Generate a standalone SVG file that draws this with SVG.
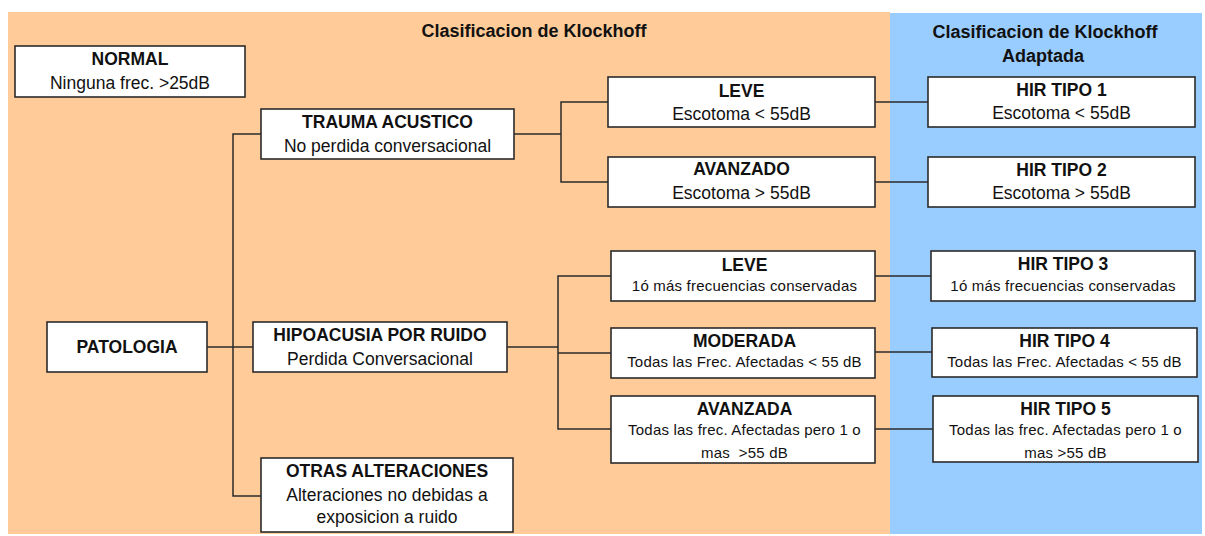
<svg xmlns="http://www.w3.org/2000/svg" width="1205" height="536" viewBox="0 0 1205 536">
<style>
.bg{stroke:none}
.box{fill:#ffffff;stroke:#2b2b2b;stroke-width:1.6}
.con{fill:none;stroke:#2b2b2b;stroke-width:1.5}
text{font-family:"Liberation Sans",Arial,sans-serif;fill:#111;text-anchor:middle}
.b{font-weight:bold;font-size:17.5px}
.t{font-size:17.5px}
.s{font-size:15px;letter-spacing:0.2px}
.h{font-weight:bold;font-size:18px}
</style>
<rect width="1205" height="536" fill="#ffffff"/>
<rect class="bg" x="8" y="12" width="882" height="522" fill="#ffcc99"/>
<rect class="bg" x="890" y="13" width="312" height="521" fill="#99ccff"/>
<text class="h" x="534" y="37">Clasificacion de Klockhoff</text>
<text class="h" x="1045" y="38">Clasificacion de Klockhoff</text>
<text class="h" x="1043" y="62">Adaptada</text>
<g id="connectors">
<path class="con" d="M207 347H253"/>
<path class="con" d="M261 134H233V496H261"/>
<path class="con" d="M514 134H561"/>
<path class="con" d="M608 102H561V182H608"/>
<path class="con" d="M875 102H928"/>
<path class="con" d="M875 182H928"/>
<path class="con" d="M507 347H558"/>
<path class="con" d="M611 276H558V429H611"/>
<path class="con" d="M558 353H611"/>
<path class="con" d="M875 276H931"/>
<path class="con" d="M875 352H932"/>
<path class="con" d="M875 429H933"/>
</g>
<g id="normal">
<rect class="box" x="15" y="46" width="230" height="51"/>
<text class="b" x="130" y="65">NORMAL</text>
<text class="t" x="130" y="89">Ninguna frec. &gt;25dB</text>
</g>
<g id="patologia">
<rect class="box" x="47" y="322" width="160" height="50"/>
<text class="b" x="127" y="353">PATOLOGIA</text>
</g>
<g id="trauma">
<rect class="box" x="261" y="109" width="253" height="50"/>
<text class="b" x="387.5" y="128">TRAUMA ACUSTICO</text>
<text class="t" x="387.5" y="152">No perdida conversacional</text>
</g>
<g id="hipoacusia">
<rect class="box" x="253" y="322" width="254" height="50"/>
<text class="b" x="380" y="341">HIPOACUSIA POR RUIDO</text>
<text class="t" x="380" y="365">Perdida Conversacional</text>
</g>
<g id="otras">
<rect class="box" x="261" y="458" width="252" height="74"/>
<text class="b" x="387" y="477">OTRAS ALTERACIONES</text>
<text class="t" x="387" y="501">Alteraciones no debidas a</text>
<text class="t" x="387" y="523">exposicion a ruido</text>
</g>
<g id="leve1">
<rect class="box" x="608" y="77" width="267" height="50"/>
<text class="b" x="741.5" y="97">LEVE</text>
<text class="t" x="741.5" y="120">Escotoma &lt; 55dB</text>
</g>
<g id="avanzado">
<rect class="box" x="608" y="157" width="267" height="50"/>
<text class="b" x="741.5" y="175">AVANZADO</text>
<text class="t" x="741.5" y="199">Escotoma &gt; 55dB</text>
</g>
<g id="hir1">
<rect class="box" x="928" y="77" width="267" height="50"/>
<text class="b" x="1061.5" y="96">HIR TIPO 1</text>
<text class="t" x="1061.5" y="119">Escotoma &lt; 55dB</text>
</g>
<g id="hir2">
<rect class="box" x="928" y="157" width="267" height="50"/>
<text class="b" x="1061.5" y="176">HIR TIPO 2</text>
<text class="t" x="1061.5" y="199">Escotoma &gt; 55dB</text>
</g>
<g id="leve2">
<rect class="box" x="611" y="251" width="264" height="50"/>
<text class="b" x="744.5" y="270.5">LEVE</text>
<text class="s" x="744.5" y="291">1ó más frecuencias conservadas</text>
</g>
<g id="moderada">
<rect class="box" x="611" y="328" width="264" height="50"/>
<text class="b" x="744.5" y="347">MODERADA</text>
<text class="s" x="744.5" y="367">Todas las Frec. Afectadas &lt; 55 dB</text>
</g>
<g id="avanzada">
<rect class="box" x="611" y="396" width="264" height="67"/>
<text class="b" x="744.5" y="415">AVANZADA</text>
<text class="s" x="744.5" y="435">Todas las frec. Afectadas pero 1 o</text>
<text class="s" x="744.5" y="458">mas&#160; &gt;55 dB</text>
</g>
<g id="hir3">
<rect class="box" x="931" y="251" width="264" height="50"/>
<text class="b" x="1063" y="270">HIR TIPO 3</text>
<text class="s" x="1063" y="291">1ó más frecuencias conservadas</text>
</g>
<g id="hir4">
<rect class="box" x="932" y="328" width="265" height="49"/>
<text class="b" x="1064.5" y="347">HIR TIPO 4</text>
<text class="s" x="1064.5" y="367">Todas las Frec. Afectadas &lt; 55 dB</text>
</g>
<g id="hir5">
<rect class="box" x="933" y="396" width="265" height="66"/>
<text class="b" x="1065.5" y="415">HIR TIPO 5</text>
<text class="s" x="1065.5" y="435">Todas las frec. Afectadas pero 1 o</text>
<text class="s" x="1065.5" y="458">mas &gt;55 dB</text>
</g>
</svg>
